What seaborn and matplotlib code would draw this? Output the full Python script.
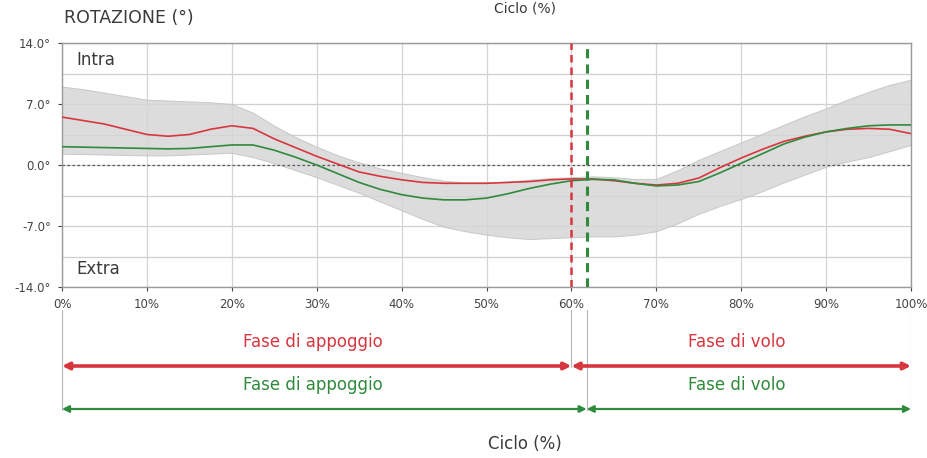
import matplotlib
matplotlib.use("Agg")
import matplotlib.pyplot as plt
import seaborn as sns
import pandas as pd
import numpy as np

# ---------------- data ----------------
cycle_pct = [0, 2.5, 5, 7.5, 10, 12.5, 15, 17.5, 20, 22.5, 25, 27.5, 30, 32.5, 35, 37.5,
             40, 42.5, 45, 47.5, 50, 52.5, 55, 57.5, 60, 62.5, 65, 67.5, 70, 72.5, 75,
             77.5, 80, 82.5, 85, 87.5, 90, 92.5, 95, 97.5, 100]
red_rot = [5.5, 5.1, 4.7, 4.1, 3.5, 3.3, 3.5, 4.1, 4.5, 4.2, 3.0, 2.0, 1.0, 0.1, -0.8, -1.3,
           -1.7, -2.0, -2.1, -2.1, -2.1, -2.0, -1.9, -1.7, -1.6, -1.6, -1.8, -2.1, -2.3, -2.1, -1.5,
           -0.3, 0.8, 1.8, 2.7, 3.3, 3.8, 4.1, 4.2, 4.1, 3.6]
green_rot = [2.1, 2.05, 2.0, 1.95, 1.9, 1.85, 1.9, 2.1, 2.3, 2.3, 1.7, 0.9, 0.0, -1.0, -2.0, -2.8,
             -3.4, -3.8, -4.0, -4.0, -3.8, -3.3, -2.7, -2.2, -1.8, -1.65, -1.7, -2.1, -2.4, -2.3, -1.9,
             -0.9, 0.2, 1.3, 2.4, 3.2, 3.8, 4.2, 4.5, 4.6, 4.6]
norm_upper = [9.0, 8.7, 8.3, 7.9, 7.5, 7.4, 7.3, 7.2, 7.0, 6.0, 4.5, 3.2, 2.1, 1.1, 0.3, -0.4,
              -0.9, -1.4, -1.8, -2.0, -2.0, -1.9, -1.7, -1.5, -1.4, -1.3, -1.4, -1.6, -1.6, -0.6, 0.6,
              1.6, 2.6, 3.6, 4.6, 5.6, 6.5, 7.5, 8.4, 9.2, 9.8]
norm_lower = [1.3, 1.25, 1.2, 1.15, 1.1, 1.1, 1.2, 1.3, 1.4, 0.9, 0.2, -0.6, -1.4, -2.3, -3.2, -4.2,
              -5.2, -6.2, -7.1, -7.6, -8.0, -8.3, -8.5, -8.4, -8.3, -8.2, -8.2, -8.0, -7.6, -6.7, -5.6,
              -4.7, -3.9, -3.0, -2.0, -1.1, -0.2, 0.4, 0.9, 1.6, 2.3]

y_ticks = [14.0, 7.0, 0.0, -7.0, -14.0]
y_grid = [10.5, 3.5, -3.5, -10.5]
x_ticks = [0, 10, 20, 30, 40, 50, 60, 70, 80, 90, 100]
stance_end_red = 60.0
stance_end_green = 61.8
phase_labels = ["Fase di appoggio", "Fase di volo"]
title = "ROTAZIONE (°)"
x_label = "Ciclo (%)"

RED = "#d8363f"
GREEN = "#2f8a3c"
TXT = "#3a3a3a"

sns.set_theme(style="white")
plt.rcParams['font.family'] = ['DejaVu Sans']

W, H = 927, 458
fig = plt.figure(figsize=(W / 100, H / 100), dpi=100)
fig.patch.set_facecolor("white")

ax = fig.add_axes([62 / W, 1 - 287 / H, 849 / W, 244 / H])

df = pd.DataFrame({
    "ciclo": cycle_pct * 2,
    "rot": red_rot + green_rot,
    "lato": ["red"] * len(cycle_pct) + ["green"] * len(cycle_pct),
})

# grid
for g in y_grid + y_ticks:
    ax.axhline(g, color="#cfcfcf", lw=0.9, zorder=0)
for t in x_ticks:
    ax.axvline(t, color="#d4d4d4", lw=0.9, zorder=0)

ax.fill_between(cycle_pct, norm_lower, norm_upper, color="#d6d6d6", alpha=0.85,
                edgecolor="#c2c2c2", lw=0.7, zorder=1)
ax.axhline(0, color="#555555", lw=0.9, ls=(0, (2, 2)), zorder=2)

sns.lineplot(data=df, x="ciclo", y="rot", hue="lato",
             palette={"red": RED, "green": GREEN}, ax=ax, legend=False,
             lw=1.2, zorder=3)

ax.axvline(stance_end_red, color=RED, lw=1.8, ls=(0, (3, 2)), zorder=4)
ax.axvline(stance_end_green, color=GREEN, lw=2.2, ls=(0, (3, 2)), zorder=4)

ax.set_xlim(0, 100)
ax.set_ylim(-14, 14)
ax.set_xticks(x_ticks)
ax.set_xticklabels([f"{t}%" for t in x_ticks])
ax.set_yticks(y_ticks)
ax.set_yticklabels([f"{t:.1f}°" for t in y_ticks])
ax.set_xlabel("")
ax.set_ylabel("")
ax.tick_params(axis="both", labelsize=8.5, colors="#444444", length=3, width=0.8,
               direction="out", pad=5)
ax.tick_params(axis="x", bottom=True)
ax.tick_params(axis="y", left=True)
for s in ax.spines.values():
    s.set_color("#9a9a9a")
    s.set_linewidth(1.0)

ax.text(1.7, 12.1, "Intra", fontsize=12, color=TXT, va="center", ha="left")
ax.text(1.7, -11.9, "Extra", fontsize=12, color=TXT, va="center", ha="left")

fig.text(64 / W, 1 - 18 / H, title, fontsize=12.5, color=TXT, va="center", ha="left")
fig.text(525 / W, 1 - 1 / H, x_label, fontsize=10, color=TXT, va="top", ha="center")

# ---------------- phase annotation panel ----------------
pax = fig.add_axes([62 / W, 0, 849 / W, 168 / H])
pax.set_xlim(0, 100)
pax.set_ylim(458, 290)  # pixel rows
pax.axis("off")

for xv, y1 in [(0, 410), (stance_end_red, 367), (stance_end_green, 410), (100, 410)]:
    pax.plot([xv, xv], [310, y1], color="#b5b5b5", lw=0.8, zorder=0)

def phase_arrow(x0, x1, y, color, lw):
    pax.annotate("", xy=(x0, y), xytext=(x1, y),
                 arrowprops=dict(arrowstyle="<|-|>", color=color, lw=lw,
                                 mutation_scale=10, shrinkA=0, shrinkB=0))

phase_arrow(0, stance_end_red, 366, RED, 2.6)
phase_arrow(stance_end_red, 100, 366, RED, 2.6)
phase_arrow(0, stance_end_green, 409, GREEN, 1.6)
phase_arrow(stance_end_green, 100, 409, GREEN, 1.6)

for yv, col in [(342, RED), (385, GREEN)]:
    pax.text(stance_end_red / 2 - 0.5, yv, phase_labels[0], color=col, fontsize=12,
             ha="center", va="center")
    pax.text((stance_end_red + 100) / 2 - 0.5, yv, phase_labels[1], color=col, fontsize=12,
             ha="center", va="center")
pax.text(54.5, 444, x_label, color=TXT, fontsize=12, ha="center", va="center")

fig.savefig("out.png", dpi=100, facecolor="white")
